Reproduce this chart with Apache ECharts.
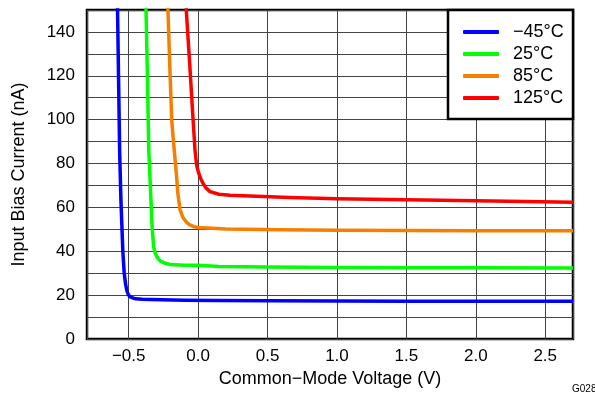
<!DOCTYPE html>
<html lang="en">
<head>
    <meta charset="UTF-8">
    <title>Input Bias Current vs Common-Mode Voltage</title>
    <script type="text/javascript" src="https://cdn.jsdelivr.net/npm/echarts@6.0.0/dist/echarts.min.js"></script>
    <style>
        html, body { margin: 0; padding: 0; background: #fff; }
        #main { width: 595px; height: 397px; }
    </style>
</head>
<body>
<div id="main"></div>
<script>
    // series names (legend)
    var names = ['\u221245\u00b0C', '25\u00b0C', '85\u00b0C', '125\u00b0C'];
    var colors = ['#0000ff', '#00ff00', '#f77f00', '#ff0000'];

    // [common-mode voltage (V), input bias current (nA)]
    var tMinus45 = [
        [-0.582, 155], [-0.580, 150], [-0.573, 120], [-0.565, 86], [-0.556, 64],
        [-0.542, 40], [-0.532, 30], [-0.522, 25], [-0.513, 22], [-0.503, 20.3],
        [-0.490, 19.2], [-0.477, 18.7], [-0.450, 18.3], [-0.40, 18.1], [-0.345, 18.0],
        [-0.10, 17.7], [0.13, 17.5], [0.5, 17.4], [1.0, 17.3], [1.5, 17.2],
        [2.0, 17.2], [2.7, 17.2]
    ];
    var t25 = [
        [-0.378, 155], [-0.375, 150], [-0.365, 120], [-0.355, 86], [-0.340, 64],
        [-0.330, 50], [-0.320, 42], [-0.308, 39], [-0.292, 37], [-0.276, 35.8],
        [-0.255, 35], [-0.228, 34.4], [-0.20, 34.0], [-0.10, 33.6], [0.0, 33.6],
        [0.15, 33.0], [0.5, 32.8], [1.0, 32.6], [1.5, 32.5], [2.0, 32.5], [2.7, 32.4]
    ];
    var t85 = [
        [-0.220, 155], [-0.217, 150], [-0.204, 125], [-0.190, 100], [-0.180, 92],
        [-0.170, 85], [-0.156, 75], [-0.145, 66], [-0.130, 59], [-0.110, 55.5],
        [-0.085, 53.3], [-0.060, 52], [-0.030, 51.2], [0.0, 50.8], [0.2, 50.2],
        [0.59, 49.8], [1.0, 49.6], [1.5, 49.5], [2.0, 49.4], [2.7, 49.3]
    ];
    var t125 = [
        [-0.088, 155], [-0.085, 150], [-0.060, 125], [-0.036, 100], [-0.022, 86],
        [-0.010, 79], [0.005, 75.5], [0.020, 73], [0.035, 71], [0.055, 69],
        [0.086, 67.2], [0.15, 66], [0.23, 65.5], [0.66, 64.5], [1.0, 64],
        [1.5, 63.5], [2.0, 63], [2.7, 62.4]
    ];
    var seriesData = [tMinus45, t25, t85, t125];

    var font = 'Liberation Sans, Arial, sans-serif';
    var chart = echarts.init(document.getElementById('main'));

    var option = {
        animation: false,
        textStyle: { fontFamily: font, color: '#000' },
        grid: {
            left: 87, top: 10, right: 22, bottom: 58,
            show: true, borderColor: '#000', borderWidth: 2.5
        },
        xAxis: {
            type: 'value',
            min: -0.8, max: 2.7,
            splitNumber: 7,
            minInterval: 0.5, maxInterval: 0.5,
            name: 'Common\u2212Mode Voltage (V)',
            nameLocation: 'middle',
            nameGap: 28,
            nameTextStyle: { fontSize: 18, color: '#000', fontFamily: font },
            axisLine: { show: false },
            axisTick: { show: false },
            splitLine: { show: true, lineStyle: { color: '#444', width: 1 } },
            axisLabel: {
                fontSize: 17, color: '#000', margin: 9, fontFamily: font,
                showMinLabel: false, showMaxLabel: false,
                formatter: function (v) {
                    return v < 0 ? '\u2212' + Math.abs(v).toFixed(1) : v.toFixed(1);
                }
            }
        },
        yAxis: {
            type: 'value',
            min: 0, max: 150, interval: 10,
            name: 'Input Bias Current (nA)',
            nameLocation: 'middle',
            nameGap: 59,
            nameTextStyle: { fontSize: 18, color: '#000', fontFamily: font },
            axisLine: { show: false },
            axisTick: { show: false },
            splitLine: { show: true, lineStyle: { color: '#444', width: 1 } },
            axisLabel: {
                fontSize: 17, color: '#000', margin: 12, fontFamily: font,
                formatter: function (v) { return v % 20 === 0 ? String(v) : ''; }
            }
        },
        legend: {
            orient: 'vertical',
            left: 463, top: 23,
            padding: 0,
            itemWidth: 36, itemHeight: 4, itemGap: 4,
            icon: 'roundRect',
            z: 20,
            textStyle: { fontSize: 18, lineHeight: 18, color: '#000', fontFamily: font, padding: [0, 0, 0, 9] },
            data: names
        },
        graphic: [
            {
                type: 'rect', z: 10,
                shape: { x: 448, y: 10, width: 125, height: 109 },
                style: { fill: '#fff', stroke: '#000', lineWidth: 2.5 }
            },
            {
                type: 'text', z: 10, left: 572, top: 384,
                style: { text: 'G028', fontSize: 10, fill: '#000', font: '10px ' + font }
            }
        ],
        series: names.map(function (n, i) {
            return {
                name: n,
                type: 'line',
                data: seriesData[i],
                showSymbol: false,
                smooth: false,
                color: colors[i],
                lineStyle: { width: 3.5, color: colors[i], join: 'round' },
                clip: true
            };
        })
    };
    chart.setOption(option);
</script>
</body>
</html>
